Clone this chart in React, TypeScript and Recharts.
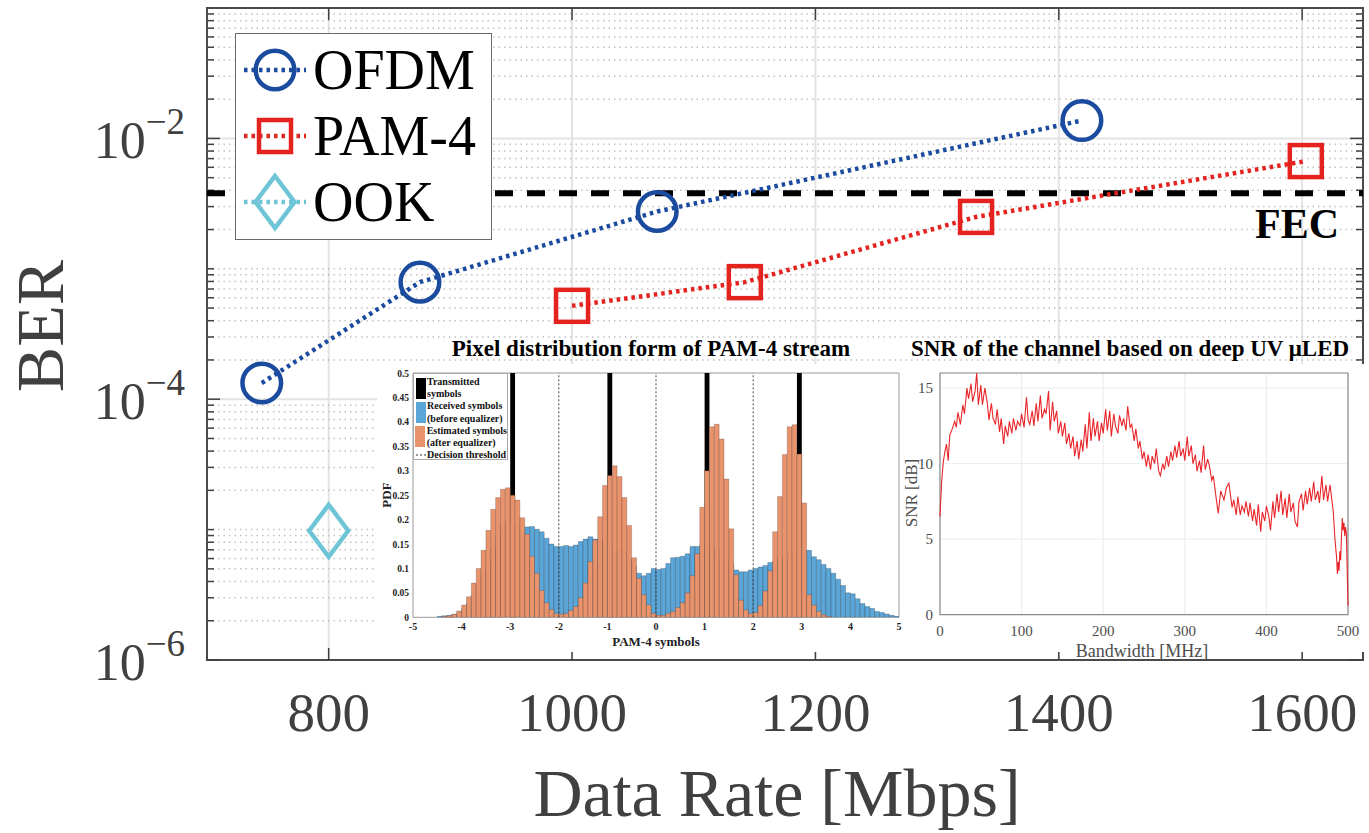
import React from 'react';
import {
  ComposedChart,
  LineChart,
  Line,
  Bar,
  XAxis,
  YAxis,
  CartesianGrid,
  ReferenceLine,
  ReferenceArea,
  Legend,
} from 'recharts';

const SERIF = '"Liberation Serif", "Times New Roman", Times, serif';

// ---------------- main chart data ----------------
const ofdmRate = [745, 875, 1070, 1419];
const ofdmBer = [1.33e-4, 7.9e-4, 2.75e-3, 1.37e-2];
const pam4Rate = [1000, 1142, 1332, 1603];
const pam4Ber = [5.2e-4, 7.9e-4, 2.5e-3, 6.7e-3];
const ookRate = [800];
const ookBer = [9.8e-6];
const fecThreshold = 3.8e-3;
const rateTicks = [800, 1000, 1200, 1400, 1600];
const berTicks = [1e-6, 1e-4, 1e-2];
const berDecades = [1e-6, 1e-5, 1e-4, 1e-3, 1e-2];
const minorMultipliers = [1, 2, 3, 4, 5, 6, 7, 8, 9];

// ---------------- histogram inset data ----------------
const binCenters = [
  -4.45, -4.35, -4.25, -4.15, -4.05, -3.95, -3.85, -3.75, -3.65, -3.55,
  -3.45, -3.35, -3.25, -3.15, -3.05, -2.95, -2.85, -2.75, -2.65, -2.55,
  -2.45, -2.35, -2.25, -2.15, -2.05, -1.95, -1.85, -1.75, -1.65, -1.55,
  -1.45, -1.35, -1.25, -1.15, -1.05, -0.95, -0.85, -0.75, -0.65, -0.55,
  -0.45, -0.35, -0.25, -0.15, -0.05, 0.05, 0.15, 0.25, 0.35, 0.45,
  0.55, 0.65, 0.75, 0.85, 0.95, 1.05, 1.15, 1.25, 1.35, 1.45,
  1.55, 1.65, 1.75, 1.85, 1.95, 2.05, 2.15, 2.25, 2.35, 2.45,
  2.55, 2.65, 2.75, 2.85, 2.95, 3.05, 3.15, 3.25, 3.35, 3.45,
  3.55, 3.65, 3.75, 3.85, 3.95, 4.05, 4.15, 4.25, 4.35, 4.45,
  4.55, 4.65, 4.75, 4.85, 4.95,
];
const receivedPdf = [
  0.002, 0.003, 0.004, 0.006, 0.01, 0.018, 0.03, 0.045, 0.065, 0.09,
  0.115, 0.14, 0.165, 0.19, 0.195, 0.19, 0.19, 0.185, 0.185, 0.186,
  0.18, 0.175, 0.162, 0.15, 0.145, 0.145, 0.147, 0.145, 0.148, 0.155,
  0.16, 0.165, 0.16, 0.16, 0.155, 0.145, 0.143, 0.14, 0.132, 0.12,
  0.105, 0.09, 0.085, 0.09, 0.1, 0.098, 0.1, 0.11, 0.122, 0.123,
  0.125, 0.13, 0.145, 0.145, 0.148, 0.145, 0.145, 0.14, 0.125, 0.12,
  0.11, 0.097, 0.093, 0.093, 0.097, 0.1, 0.103, 0.106, 0.112, 0.115,
  0.12, 0.125, 0.13, 0.135, 0.135, 0.137, 0.137, 0.124, 0.118, 0.108,
  0.1, 0.09, 0.078, 0.065, 0.05, 0.048, 0.038, 0.028, 0.022, 0.018,
  0.012, 0.01, 0.007, 0.004, 0.002,
];
const estimatedPdf = [
  0, 0.002, 0.003, 0.006, 0.013, 0.025, 0.042, 0.07, 0.1, 0.137,
  0.178, 0.221, 0.245, 0.262, 0.265, 0.25, 0.24, 0.204, 0.17, 0.125,
  0.09, 0.055, 0.03, 0.016, 0.008, 0.006, 0.008, 0.014, 0.022, 0.04,
  0.07, 0.114, 0.158, 0.206, 0.27, 0.29, 0.31, 0.288, 0.245, 0.188,
  0.122, 0.08, 0.046, 0.025, 0.008, 0.004, 0.004, 0.008, 0.012, 0.02,
  0.03, 0.05, 0.085, 0.13, 0.225, 0.3, 0.39, 0.395, 0.365, 0.283,
  0.181, 0.087, 0.035, 0.015, 0.008, 0.01, 0.024, 0.054, 0.095, 0.175,
  0.247, 0.333, 0.39, 0.394, 0.334, 0.234, 0.046, 0.025, 0.012, 0.005,
  0.002, 0, 0, 0, 0, 0, 0, 0, 0, 0,
  0, 0, 0, 0, 0,
];
const transmittedSymbols = [-2.95, -0.95, 1.05, 2.95];
const transmittedPdf = 0.5;
const pamTicks = [-5, -4, -3, -2, -1, 0, 1, 2, 3, 4, 5];
const pdfTicks = [0, 0.05, 0.1, 0.15, 0.2, 0.25, 0.3, 0.35, 0.4, 0.45, 0.5];
const decisionThresholds = [-2, 0, 2];

// ---------------- SNR inset data ----------------
const bandwidthMHz = [
  0, 2, 4, 6, 8, 10, 12, 15, 18, 20, 22, 25, 28, 30, 33, 35, 38, 40, 43, 45,
  47, 50, 52, 55, 58, 60, 63, 65, 68, 70, 73, 75, 78, 80, 83, 85, 88, 90, 93, 95,
  98, 100, 103, 106, 108, 110, 113, 115, 118, 120, 123, 125, 128, 130, 133, 135, 138, 140, 143, 145,
  148, 150, 153, 155, 158, 160, 163, 165, 168, 170, 173, 175, 178, 180, 183, 185, 188, 190, 193, 195,
  198, 200, 203, 205, 208, 210, 213, 215, 218, 220, 223, 225, 228, 230, 233, 235, 238, 240, 243, 245,
  248, 250, 253, 255, 258, 260, 263, 265, 268, 270, 273, 275, 278, 280, 283, 285, 288, 290, 293, 295,
  298, 300, 303, 305, 308, 310, 313, 315, 318, 320, 323, 325, 328, 330, 333, 335, 338, 341, 344, 348,
  351, 354, 358, 360, 363, 365, 368, 370, 373, 375, 378, 380, 383, 385, 388, 390, 393, 395, 398, 400,
  403, 405, 408, 410, 413, 415, 418, 420, 423, 425, 428, 430, 433, 435, 438, 440, 443, 445, 448, 450,
  453, 455, 458, 460, 463, 465, 468, 470, 473, 475, 478, 480, 482, 484, 486, 487, 488, 489, 490, 491,
  492, 493, 494, 495, 496, 497, 498, 499, 500,
];
const snrDb = [
  6.5, 8.8, 10.1, 10.8, 11.3, 10.2, 11.9, 12.3, 12.8, 12.4, 13.4, 12.6, 13.9, 13.3, 15, 14.3, 15.3, 14.1, 14.8, 16,
  13.9, 15.2, 13.9, 15, 14, 12.9, 14, 13, 12.6, 13.6, 12.1, 13, 11.3, 12.5, 11.8, 12.8, 12, 13, 12.2, 12.8,
  12.5, 13.3, 12.4, 14.4, 12.9, 12.6, 13.5, 12.5, 14, 12.8, 14.5, 13, 13.6, 13.3, 14.8, 12.2, 14.1, 12.8, 13.5, 12,
  12.8, 11.8, 12.7, 11.3, 12, 11, 11.8, 10.5, 11.5, 10.3, 11.6, 10.8, 12.6, 11, 13.4, 11.5, 13, 11.8, 12.8, 11.5,
  12.7, 12, 13.6, 12.2, 13.5, 11.8, 13.3, 12.5, 12, 13.2, 12.5, 13, 12.2, 13.8, 12.4, 12.6, 11.5, 12.3, 11, 11.5,
  10.3, 10.8, 9.8, 10.6, 9.6, 10.5, 10, 11, 9.5, 9.2, 10, 9.6, 10.5, 9.8, 10.8, 10.2, 11.2, 10.4, 11.5, 10.5,
  11, 10.2, 11.8, 10.5, 11.2, 10, 10.6, 9.5, 10.2, 9.4, 11.2, 9.6, 10.3, 9.9, 8.9, 9.2, 7.9, 6.7, 8.2, 7.6,
  8.4, 8.7, 7.1, 7.6, 6.6, 7.8, 6.6, 7.2, 6.8, 7.5, 6.5, 7.4, 6.2, 7, 5.9, 7.3, 5.5, 6.8, 6.2, 7.2,
  6.5, 5.6, 7.5, 6.4, 8, 6.8, 8.2, 6.6, 7.7, 6.4, 8, 6.8, 7.4, 6.2, 5.8, 7.5, 8, 6.9, 8.2, 7.3,
  8.4, 7.5, 8.8, 7.6, 8.2, 7.4, 9.2, 7.6, 8.6, 7.5, 8.6, 7.7, 6.8, 5, 3.8, 2.7, 3.5, 2.9, 4.2, 3.6,
  5.2, 6.4, 5.6, 6.1, 5.2, 5.8, 5.4, 3, 0.6,
];
const bandwidthTicks = [0, 100, 200, 300, 400, 500];
const snrTicks = [0, 5, 10, 15];

// ---------------- styles ----------------
const OFDM_COLOR = '#1b4b9e';
const PAM_COLOR = '#e4231f';
const OOK_COLOR = '#6ec5d6';
const AXIS_TEXT = '#404040';
const BLUE_BAR = '#5ba6d9';
const ORANGE_BAR = '#e9936d';

const ofdmPoints = ofdmRate.map((x, i) => ({ x, ber: ofdmBer[i] }));
const pam4Points = pam4Rate.map((x, i) => ({ x, ber: pam4Ber[i] }));
const ookPoints = ookRate.map((x, i) => ({ x, ber: ookBer[i] }));

const minorValues = berDecades
  .flatMap((d) => minorMultipliers.map((k) => Number((k * d).toPrecision(3))))
  .filter((v) => !berTicks.some((t) => Math.abs(t - v) / t < 1e-6));

const histData = binCenters.map((x, i) => ({
  x,
  tx: transmittedSymbols.some((s) => Math.abs(s - x) < 1e-6) ? transmittedPdf : 0,
  rx: receivedPdf[i],
  est: estimatedPdf[i],
}));

const snrData = bandwidthMHz.map((f, i) => ({ f, snr: snrDb[i] }));

type Shape = 'circle' | 'square' | 'diamond';

const Marker = ({ shape, cx, cy, color }: { shape: Shape; cx: number; cy: number; color: string }) => {
  if (shape === 'circle') {
    return <circle cx={cx} cy={cy} r={19.3} fill="none" stroke={color} strokeWidth={4.5} />;
  }
  if (shape === 'square') {
    return <rect x={cx - 16} y={cy - 16} width={32} height={32} fill="none" stroke={color} strokeWidth={4.5} />;
  }
  return (
    <polygon
      points={`${cx},${cy - 26} ${cx + 19.5},${cy} ${cx},${cy + 26} ${cx - 19.5},${cy}`}
      fill="none"
      stroke={color}
      strokeWidth={4.5}
    />
  );
};

const makeDot = (shape: Shape, color: string) => (props: any) => {
  const { cx, cy, index } = props;
  if (cx == null || cy == null) return <g key={`e${index}`} />;
  return (
    <g key={`d${index}`}>
      <Marker shape={shape} cx={cx} cy={cy} color={color} />
    </g>
  );
};

const legendItems: { name: string; color: string; shape: Shape }[] = [
  { name: 'OFDM', color: OFDM_COLOR, shape: 'circle' },
  { name: 'PAM-4', color: PAM_COLOR, shape: 'square' },
  { name: 'OOK', color: OOK_COLOR, shape: 'diamond' },
];

const MainLegend = () => (
  <div
    style={{
      width: 257,
      height: 207,
      boxSizing: 'border-box',
      border: '1.5px solid #6a6a6a',
      background: '#fff',
      paddingTop: 3,
    }}
  >
    {legendItems.map((it) => (
      <div key={it.name} style={{ display: 'flex', alignItems: 'center', height: 66 }}>
        <svg width={77} height={66} style={{ flex: 'none' }}>
          <line x1={8} x2={70} y1={33} y2={33} stroke={it.color} strokeWidth={4.5} strokeDasharray="3.5 4" />
          <Marker shape={it.shape} cx={39} cy={33} color={it.color} />
        </svg>
        <span style={{ fontFamily: SERIF, fontSize: 56, lineHeight: '66px', color: '#000' }}>{it.name}</span>
      </div>
    ))}
  </div>
);

const BerTick = (props: any) => {
  const { x, y, payload } = props;
  const exp = Math.round(Math.log10(payload.value));
  return (
    <text x={x - 22} y={y + 20} textAnchor="end" fontFamily={SERIF} fontSize={52} fill={AXIS_TEXT}>
      10
      <tspan dy={-24} fontSize={37}>
        {'\u2212' + Math.abs(exp)}
      </tspan>
    </text>
  );
};

const RateTick = (props: any) => {
  const { x, y, payload } = props;
  return (
    <text x={x} y={y + 71} textAnchor="middle" fontFamily={SERIF} fontSize={55} fill={AXIS_TEXT}>
      {payload.value}
    </text>
  );
};

const HistXTick = (props: any) => {
  const { x, y, payload } = props;
  return (
    <text x={x} y={y + 13} textAnchor="middle" fontFamily={SERIF} fontWeight="bold" fontSize={10} fill="#222">
      {payload.value}
    </text>
  );
};

const HistYTick = (props: any) => {
  const { x, y, payload } = props;
  const v = payload.value === 0 ? '0' : String(Number(payload.value.toFixed(2)));
  return (
    <text x={x - 4} y={y + 3.5} textAnchor="end" fontFamily={SERIF} fontWeight="bold" fontSize={9.5} fill="#222">
      {v}
    </text>
  );
};

const SnrXTick = (props: any) => {
  const { x, y, payload } = props;
  return (
    <text x={x} y={y + 21} textAnchor="middle" fontFamily={SERIF} fontSize={15} fill="#4d4d4d">
      {payload.value}
    </text>
  );
};

const SnrYTick = (props: any) => {
  const { x, y, payload } = props;
  return (
    <text x={x - 7} y={y + 5} textAnchor="end" fontFamily={SERIF} fontSize={15} fill="#4d4d4d">
      {payload.value}
    </text>
  );
};

const xPerPx = 950 / 1156;
const tickX = (px: number) => px * xPerPx;
const tickYFactor = (px: number) => Math.pow(10, px / 130.4);

const HistLegend = () => {
  const row = (patch: React.ReactNode, lines: string[]) => (
    <div style={{ display: 'flex', alignItems: 'center', height: lines.length * 12.2 }}>
      <div style={{ width: 13, display: 'flex', justifyContent: 'center' }}>{patch}</div>
      <div>
        {lines.map((l) => (
          <div key={l} style={{ height: 12.2, lineHeight: '12.2px', whiteSpace: 'nowrap' }}>
            {l}
          </div>
        ))}
      </div>
    </div>
  );
  const patch = (c: string) => <div style={{ width: 10, height: 21, background: c }} />;
  return (
    <div
      style={{
        position: 'absolute',
        left: 36,
        top: 9,
        width: 95,
        height: 87,
        boxSizing: 'border-box',
        border: '1px solid #a8a8a8',
        background: '#fff',
        fontFamily: SERIF,
        fontWeight: 'bold',
        fontSize: 10,
        color: '#111',
        paddingTop: 2,
        zIndex: 2,
      }}
    >
      {row(patch('#000'), ['Transmitted', 'symbols'])}
      {row(patch(BLUE_BAR), ['Received symbols', '(before equalizer)'])}
      {row(patch(ORANGE_BAR), ['Estimated symbols', '(after equalizer)'])}
      {row(
        <svg width={10} height={4}>
          <line x1={0} x2={10} y1={2} y2={2} stroke="#333" strokeWidth={1} strokeDasharray="2 2" />
        </svg>,
        ['Decision threshold']
      )}
    </div>
  );
};

export default function App() {
  return (
    <div style={{ position: 'absolute', left: 0, top: 0, width: 1369, height: 833, background: '#fff', overflow: 'hidden' }}>
      {/* main chart */}
      <div style={{ position: 'absolute', left: 0, top: 0, zIndex: 1 }}>
        <ComposedChart width={1369} height={833} margin={{ top: 8, right: 6, bottom: 0, left: 0 }}>
          <CartesianGrid stroke="#e3e3e3" strokeWidth={2} />
          <XAxis
            type="number"
            dataKey="x"
            domain={[700, 1650]}
            ticks={rateTicks}
            allowDataOverflow
            height={173}
            axisLine={false}
            tickLine={false}
            tickSize={0}
            tickMargin={0}
            tick={(p: any) => <RateTick {...p} />}
          />
          <YAxis
            type="number"
            scale="log"
            domain={[1e-6, 1e-1]}
            ticks={berTicks}
            allowDataOverflow
            width={207}
            axisLine={false}
            tickLine={false}
            tickSize={0}
            tickMargin={0}
            tick={(p: any) => <BerTick {...p} />}
          />
          {minorValues.map((v) => (
            <ReferenceLine key={`mg${v}`} y={v} stroke="#c2c2c2" strokeWidth={1.5} strokeDasharray="1.5 4" />
          ))}
          {minorValues.map((v) => (
            <ReferenceLine
              key={`mtl${v}`}
              segment={[
                { x: 700, y: v },
                { x: 700 + tickX(7), y: v },
              ]}
              stroke="#404040"
              strokeWidth={1.5}
            />
          ))}
          {minorValues.map((v) => (
            <ReferenceLine
              key={`mtr${v}`}
              segment={[
                { x: 1650 - tickX(7), y: v },
                { x: 1650, y: v },
              ]}
              stroke="#404040"
              strokeWidth={1.5}
            />
          ))}
          {berTicks.map((v) => (
            <ReferenceLine
              key={`Mtl${v}`}
              segment={[
                { x: 700, y: v },
                { x: 700 + tickX(13), y: v },
              ]}
              stroke="#404040"
              strokeWidth={1.5}
            />
          ))}
          {berTicks.map((v) => (
            <ReferenceLine
              key={`Mtr${v}`}
              segment={[
                { x: 1650 - tickX(13), y: v },
                { x: 1650, y: v },
              ]}
              stroke="#404040"
              strokeWidth={1.5}
            />
          ))}
          {rateTicks.map((r) => (
            <ReferenceLine
              key={`xb${r}`}
              segment={[
                { x: r, y: 1e-6 },
                { x: r, y: 1e-6 * tickYFactor(12) },
              ]}
              stroke="#404040"
              strokeWidth={1.5}
            />
          ))}
          {rateTicks.map((r) => (
            <ReferenceLine
              key={`xt${r}`}
              segment={[
                { x: r, y: 1e-1 / tickYFactor(12) },
                { x: r, y: 1e-1 },
              ]}
              stroke="#404040"
              strokeWidth={1.5}
            />
          ))}
          <ReferenceArea
            x1={700}
            x2={1650}
            y1={1e-6}
            y2={1e-1}
            fill="none"
            fillOpacity={0}
            stroke="#4a4a4a"
            strokeWidth={2}
          />
          <ReferenceLine y={fecThreshold} stroke="#000" strokeWidth={6} strokeDasharray="18 14" />
          <Line
            data={ofdmPoints}
            dataKey="ber"
            stroke={OFDM_COLOR}
            strokeWidth={4.5}
            strokeDasharray="3.5 4"
            dot={makeDot('circle', OFDM_COLOR)}
            activeDot={false}
            isAnimationActive={false}
          />
          <Line
            data={pam4Points}
            dataKey="ber"
            stroke={PAM_COLOR}
            strokeWidth={4.5}
            strokeDasharray="3.5 4"
            dot={makeDot('square', PAM_COLOR)}
            activeDot={false}
            isAnimationActive={false}
          />
          <Line
            data={ookPoints}
            dataKey="ber"
            stroke={OOK_COLOR}
            strokeWidth={4.5}
            strokeDasharray="3.5 4"
            dot={makeDot('diamond', OOK_COLOR)}
            activeDot={false}
            isAnimationActive={false}
          />
          <Legend
            layout="vertical"
            align="center"
            verticalAlign="middle"
            wrapperStyle={{ left: 235, top: 33, width: 257, height: 207 }}
            content={() => <MainLegend />}
          />
        </ComposedChart>
      </div>

      {/* main axis titles and FEC label */}
      <svg width={1369} height={833} style={{ position: 'absolute', left: 0, top: 0, zIndex: 2, pointerEvents: 'none' }}>
        <text
          x={63}
          y={326}
          transform="rotate(-90 63 326)"
          textAnchor="middle"
          fontFamily={SERIF}
          fontSize={68}
          fill={AXIS_TEXT}
        >
          BER
        </text>
        <text x={777} y={816} textAnchor="middle" fontFamily={SERIF} fontSize={68} fill={AXIS_TEXT}>
          Data Rate [Mbps]
        </text>
        <text x={1297} y={238} textAnchor="middle" fontFamily={SERIF} fontWeight="bold" fontSize={42} fill="#000">
          FEC
        </text>
      </svg>

      {/* SNR inset */}
      <div style={{ position: 'absolute', left: 903, top: 364, width: 463, height: 288, background: '#fff', zIndex: 3 }}>
        <LineChart width={463} height={296} data={snrData} margin={{ top: 9, right: 18, left: 0, bottom: 0 }}>
          <CartesianGrid stroke="#ececec" strokeWidth={1} />
          <XAxis
            type="number"
            dataKey="f"
            domain={[0, 500]}
            ticks={bandwidthTicks}
            height={45.3}
            axisLine={false}
            tickLine={false}
            tickSize={0}
            tickMargin={0}
            tick={(p: any) => <SnrXTick {...p} />}
          />
          <YAxis
            type="number"
            domain={[0, 16]}
            ticks={snrTicks}
            allowDataOverflow
            width={37}
            axisLine={false}
            tickLine={false}
            tickSize={0}
            tickMargin={0}
            tick={(p: any) => <SnrYTick {...p} />}
          />
          <ReferenceArea x1={0} x2={500} y1={0} y2={16} fill="none" fillOpacity={0} stroke="#8a8a8a" strokeWidth={1.2} />
          <Line dataKey="snr" stroke="#e8262a" strokeWidth={1.1} dot={false} activeDot={false} isAnimationActive={false} />
        </LineChart>
        <svg width={463} height={296} style={{ position: 'absolute', left: 0, top: 0, overflow: 'visible', pointerEvents: 'none' }}>
          <text
            x={14}
            y={129}
            transform="rotate(-90 14 129)"
            textAnchor="middle"
            fontFamily={SERIF}
            fontSize={17}
            fill="#4d4d4d"
          >
            SNR [dB]
          </text>
          <text x={239} y={293} textAnchor="middle" fontFamily={SERIF} fontSize={18} fill="#4d4d4d">
            Bandwidth [MHz]
          </text>
        </svg>
      </div>

      {/* histogram inset */}
      <div style={{ position: 'absolute', left: 377, top: 364, width: 526, height: 288, background: '#fff', zIndex: 4 }}>
        <ComposedChart
          width={526}
          height={296}
          data={histData}
          margin={{ top: 9, right: 4, left: 0, bottom: 0 }}
          barSize={4.85}
          barGap={-4.85}
          barCategoryGap={0}
        >
          <XAxis
            type="number"
            dataKey="x"
            domain={[-5, 5]}
            ticks={pamTicks}
            allowDataOverflow
            height={42.7}
            axisLine={false}
            tickLine={false}
            tickSize={0}
            tickMargin={0}
            tick={(p: any) => <HistXTick {...p} />}
          />
          <YAxis
            type="number"
            domain={[0, 0.5]}
            ticks={pdfTicks}
            allowDataOverflow
            width={36}
            axisLine={false}
            tickLine={false}
            tickSize={0}
            tickMargin={0}
            tick={(p: any) => <HistYTick {...p} />}
          />
          <Bar dataKey="tx" fill="#000" isAnimationActive={false} />
          <Bar dataKey="rx" fill={BLUE_BAR} stroke="#000" strokeOpacity={0.35} strokeWidth={0.6} isAnimationActive={false} />
          <Bar dataKey="est" fill={ORANGE_BAR} stroke="#000" strokeOpacity={0.3} strokeWidth={0.6} isAnimationActive={false} />
          {decisionThresholds.map((t) => (
            <ReferenceLine key={`th${t}`} x={t} stroke="#333" strokeWidth={0.9} strokeDasharray="2 2" />
          ))}
          <ReferenceArea x1={-5} x2={5} y1={0} y2={0.5} fill="none" fillOpacity={0} stroke="#9a9a9a" strokeWidth={1} />
        </ComposedChart>
        <svg width={526} height={296} style={{ position: 'absolute', left: 0, top: 0, pointerEvents: 'none' }}>
          <text
            x={14}
            y={131}
            transform="rotate(-90 14 131)"
            textAnchor="middle"
            fontFamily={SERIF}
            fontWeight="bold"
            fontSize={13}
            fill="#222"
          >
            PDF
          </text>
          <text x={279} y={282} textAnchor="middle" fontFamily={SERIF} fontWeight="bold" fontSize={13} fill="#222">
            PAM-4 symbols
          </text>
        </svg>
        <HistLegend />
      </div>

      {/* inset titles */}
      <svg width={1369} height={833} style={{ position: 'absolute', left: 0, top: 0, zIndex: 5, pointerEvents: 'none' }}>
        <text x={651} y={356} textAnchor="middle" fontFamily={SERIF} fontWeight="bold" fontSize={23} fill="#000">
          Pixel distribution form of PAM-4 stream
        </text>
        <text x={1130} y={356} textAnchor="middle" fontFamily={SERIF} fontWeight="bold" fontSize={23} fill="#000">
          SNR of the channel based on deep UV {'\u03bc'}LED
        </text>
      </svg>
    </div>
  );
}
